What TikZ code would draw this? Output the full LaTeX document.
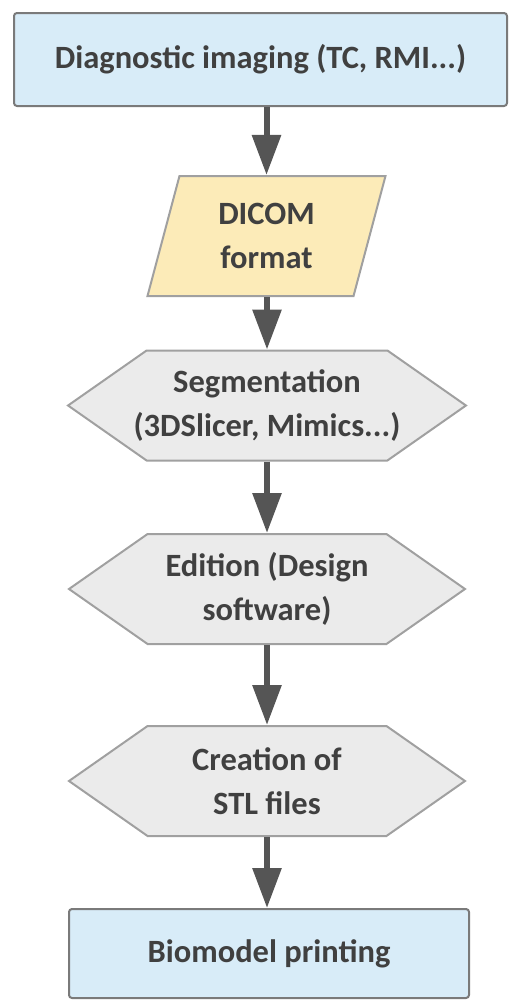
\documentclass[tikz,border=0pt]{standalone}
\usepackage{fontspec}
\setmainfont{Carlito}
\usetikzlibrary{shapes.geometric,shapes.symbols,arrows.meta}
\definecolor{boxblue}{HTML}{D8ECF8}
\definecolor{datayellow}{HTML}{FCEBB8}
\definecolor{procgray}{HTML}{EBEBEB}
\definecolor{boxline}{HTML}{7A7A7A}
\definecolor{procline}{HTML}{A0A0A0}
\definecolor{arrowgray}{HTML}{555555}
\definecolor{textgray}{HTML}{404040}
\tikzset{
  every node/.style={font=\fontsize{32.5}{44}\selectfont\bfseries, text=textgray, align=center, inner sep=0pt},
  termbox/.style={draw=boxline, line width=2pt, fill=boxblue, rounded corners=3pt},
  databox/.style={trapezium, trapezium left angle=64, trapezium right angle=116, trapezium stretches body,
    draw=procline, line width=2pt, fill=datayellow, minimum width=238pt, minimum height=120pt},
  procbox/.style={signal, signal to=west and east, signal pointer angle=70, inner xsep=-13pt,
    draw=procline, line width=2pt, fill=procgray, minimum width=396pt, minimum height=110pt},
  flow/.style={-{Triangle[width=28pt,length=40pt]}, line width=6pt, arrowgray}
}
\begin{document}
\begin{tikzpicture}[x=1pt,y=-1pt]
\useasboundingbox (0,0) rectangle (512,1001);
% boxes
\node[termbox, minimum width=493pt, minimum height=93pt] (imaging) at (260.5,59.5) {Diagnostic imaging (TC, RMI...)};
\node[databox] (dicom) at (266.5,236) {DICOM\\format};
\node[procbox] (segment) at (267,405.5) {Segmentation\\(3DSlicer, Mimics...)};
\node[procbox] (edition) at (267,589) {Edition (Design\\software)};
\node[procbox] (stl) at (267,781) {Creation of\\STL files};
\node[termbox, minimum width=400pt, minimum height=89pt] (printing) at (269,953.5) {Biomodel printing};
% arrows
\draw[flow] (imaging.south -| dicom.north) -- (dicom.north);
\draw[flow] (dicom.south -| segment.north) -- (segment.north);
\draw[flow] (segment.south) -- (edition.north);
\draw[flow] (edition.south) -- (stl.north);
\draw[flow] (stl.south) -- (stl.south |- printing.north);
\end{tikzpicture}
\end{document}
